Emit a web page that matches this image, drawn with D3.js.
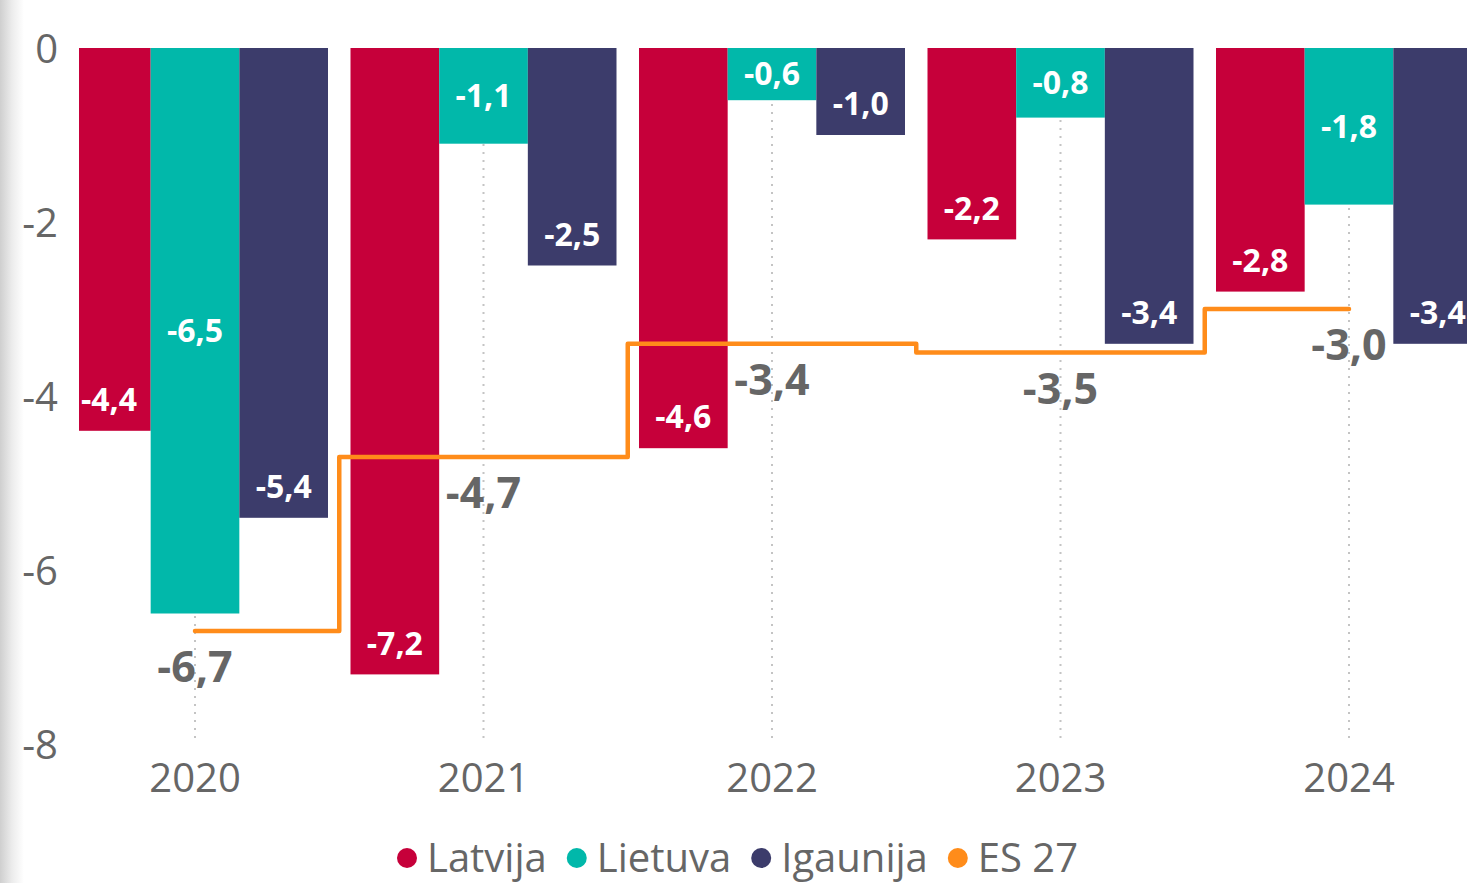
<!DOCTYPE html>
<html>
<head>
<meta charset="utf-8">
<script src="https://d3js.org/d3.v7.min.js"></script>
<style>
  html, body { margin: 0; padding: 0; background: #fff; overflow: hidden; }
  svg { display: block; font-family: "Open Sans", "Noto Sans", sans-serif; }
  .tick text { fill: #666; }
</style>
</head>
<body>
<svg id="chart" width="1467" height="883"></svg>
<script>
// data
var years = ["2020", "2021", "2022", "2023", "2024"];
var seriesNames = ["Latvija", "Lietuva", "Igaunija"];
var latvija  = [-4.4, -7.2, -4.6, -2.2, -2.8];
var lietuva  = [-6.5, -1.1, -0.6, -0.8, -1.8];
var igaunija = [-5.4, -2.5, -1.0, -3.4, -3.4];
var es27     = [-6.7, -4.7, -3.4, -3.5, -3.0];
var yTicks   = [0, -2, -4, -6, -8];
var legendNames = ["Latvija", "Lietuva", "Igaunija", "ES 27"];

var colors = { "Latvija": "#c6003a", "Lietuva": "#01b8aa", "Igaunija": "#3c3c6b", "ES 27": "#ff8c1a" };
// where the bar label sits: near the bar end or in its middle
var labelPos = { "Latvija": "end", "Lietuva": "middle", "Igaunija": "end" };

var values = [latvija, lietuva, igaunija];

var fmt = d3.formatLocale({ decimal: ",", thousands: " ", grouping: [3], currency: ["", ""], minus: "-" }).format(".1f");

var svg = d3.select("#chart");
var W = 1467, H = 883;
var plotLeft = 79;

// left shadow
var defs = svg.append("defs");
var grad = defs.append("linearGradient").attr("id", "shade").attr("x1", 0).attr("x2", 1);
grad.append("stop").attr("offset", 0).attr("stop-color", "#cfcfcf");
grad.append("stop").attr("offset", 0.5).attr("stop-color", "#ececec");
grad.append("stop").attr("offset", 1).attr("stop-color", "#ffffff");
svg.append("rect").attr("x", 0).attr("y", 0).attr("width", 24).attr("height", H).attr("fill", "url(#shade)");

defs.append("clipPath").attr("id", "plotclip")
  .append("rect").attr("x", plotLeft).attr("y", 0).attr("width", W - plotLeft).attr("height", H);

var x0 = d3.scaleBand().domain(years).range([50.75, 1493.25]).paddingInner(0.078).paddingOuter(0.039);
var x1 = d3.scaleBand().domain(seriesNames).range([0, x0.bandwidth()]);
var y = d3.scaleLinear().domain([-8, 0]).range([744, 48]);

// dotted vertical gridlines
svg.append("g").selectAll("line").data(years).enter().append("line")
  .attr("x1", function(d) { return x0(d) + x0.bandwidth() / 2; })
  .attr("x2", function(d) { return x0(d) + x0.bandwidth() / 2; })
  .attr("y1", y(0)).attr("y2", y(-8))
  .attr("stroke", "#c4c4c4").attr("stroke-width", 2).attr("stroke-dasharray", "2,6");

// y axis
var yAxis = svg.append("g").attr("transform", "translate(58,0)")
  .call(d3.axisLeft(y).tickValues(yTicks).tickSize(0).tickPadding(0).tickFormat(function(d) { return String(d); }));
yAxis.select(".domain").remove();
yAxis.selectAll("text").attr("font-size", 40).attr("font-family", "Open Sans").attr("fill", "#666").attr("dy", "0.35em");

// x axis
var xAxis = svg.append("g").attr("transform", "translate(0,744)")
  .call(d3.axisBottom(x0).tickSize(0).tickPadding(0));
xAxis.select(".domain").remove();
xAxis.selectAll("text").attr("font-size", 40).attr("font-family", "Open Sans").attr("fill", "#666").attr("dy", "1.2em");

// bars
var rows = [];
years.forEach(function(yr, i) {
  seriesNames.forEach(function(s, j) { rows.push({ year: yr, series: s, value: values[j][i] }); });
});

var barG = svg.append("g").attr("clip-path", "url(#plotclip)");
barG.selectAll("rect").data(rows).enter().append("rect")
  .attr("x", function(d) { return x0(d.year) + x1(d.series); })
  .attr("y", y(0))
  .attr("width", x1.bandwidth())
  .attr("height", function(d) { return y(d.value) - y(0); })
  .attr("fill", function(d) { return colors[d.series]; });

// bar labels
svg.append("g").selectAll("text").data(rows).enter().append("text")
  .attr("x", function(d) {
    var cx = x0(d.year) + x1(d.series) + x1.bandwidth() / 2;
    return Math.max(cx, plotLeft + 30);
  })
  .attr("y", function(d) {
    if (labelPos[d.series] === "middle") return (y(0) + y(d.value)) / 2;
    return y(d.value) - 31;
  })
  .attr("dy", "0.35em")
  .attr("text-anchor", "middle")
  .attr("font-size", 32).attr("font-weight", "bold").attr("fill", "#fff")
  .text(function(d) { return fmt(d.value); });

// ES 27 step line
var pts = years.map(function(yr, i) { return [x0(yr) + x0.bandwidth() / 2, y(es27[i])]; });
svg.append("path")
  .attr("d", d3.line().curve(d3.curveStep)(pts))
  .attr("fill", "none").attr("stroke", colors["ES 27"]).attr("stroke-width", 4.5)
  .attr("stroke-linejoin", "round").attr("stroke-linecap", "round");

svg.append("g").selectAll("text").data(years).enter().append("text")
  .attr("x", function(d) { return x0(d) + x0.bandwidth() / 2; })
  .attr("y", function(d, i) { return y(es27[i]) + 36; })
  .attr("dy", "0.35em")
  .attr("text-anchor", "middle")
  .attr("font-size", 43).attr("font-weight", "bold").attr("fill", "#666")
  .text(function(d, i) { return fmt(es27[i]); });

// legend
var leg = svg.append("g").attr("transform", "translate(0,858)");
var items = leg.selectAll("g").data(legendNames).enter().append("g");
items.append("circle").attr("r", 10).attr("cx", 10).attr("cy", 0).attr("fill", function(d) { return colors[d]; });
items.append("text").attr("x", 30).attr("dy", "0.35em")
  .attr("font-size", 40).attr("fill", "#666").text(function(d) { return d; });
var pos = 397;
items.each(function() {
  var g = d3.select(this);
  g.attr("transform", "translate(" + pos + ",0)");
  pos += 30 + g.select("text").node().getComputedTextLength() + 20;
});
</script>
</body>
</html>
